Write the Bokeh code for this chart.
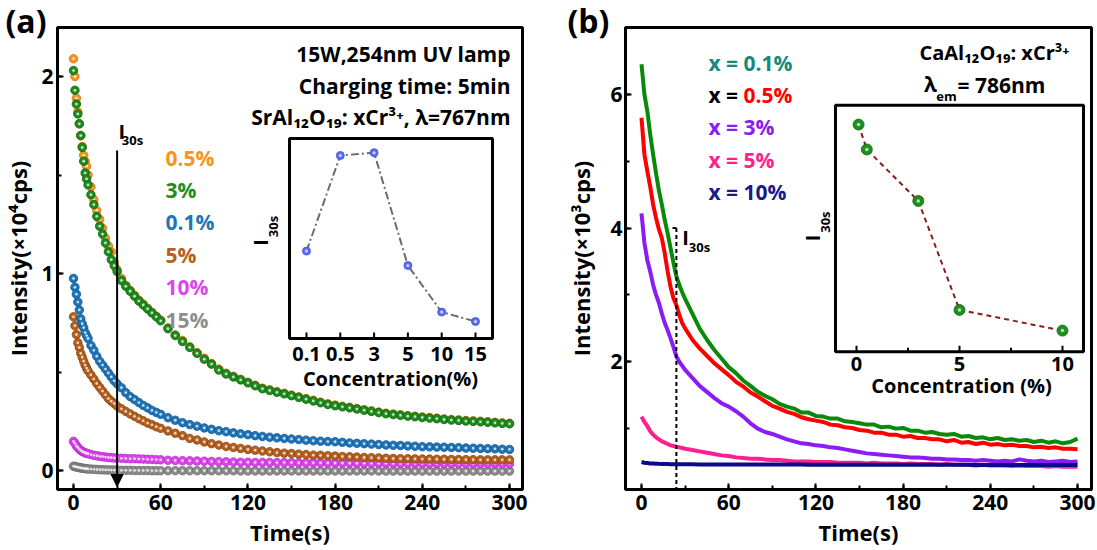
import numpy as np
from bokeh.plotting import figure
from bokeh.layouts import row
from bokeh.models import Range1d, SingleIntervalTicker, Label, Arrow, NormalHead, Title
from bokeh.embed import file_html
from bokeh.resources import INLINE
from bokeh.core.properties import value

# ---------------- data: panel (a) SrAl12O19: xCr3+ (intensity x1e4 cps) ----------------
TIME_A = list(range(0, 11)) + list(range(12, 31, 2)) + list(range(33, 61, 3)) + list(range(65, 301, 5))
A_05 = [2.09, 2.00, 1.89, 1.82, 1.76, 1.70, 1.645, 1.60, 1.57, 1.545, 1.50,
        1.44, 1.375, 1.32, 1.275, 1.23, 1.18, 1.14, 1.11, 1.06, 1.02,
        0.975, 0.94, 0.915, 0.89, 0.865, 0.845, 0.823, 0.803, 0.783, 0.763,
        0.724, 0.688, 0.66, 0.628, 0.598, 0.57, 0.543, 0.515, 0.494, 0.478, 0.463, 0.448,
        0.433, 0.418, 0.41, 0.40, 0.392, 0.383, 0.374, 0.365, 0.357, 0.347, 0.339, 0.332,
        0.326, 0.321, 0.315, 0.309, 0.303, 0.297, 0.291, 0.287, 0.283, 0.279, 0.276, 0.272,
        0.269, 0.266, 0.262, 0.259, 0.257, 0.254, 0.252, 0.25, 0.248, 0.245, 0.242, 0.24]
A_3 = [2.03, 1.93, 1.86, 1.81, 1.76, 1.70, 1.64, 1.57, 1.51, 1.48, 1.45,
       1.40, 1.35, 1.29, 1.24, 1.20, 1.155, 1.11, 1.07, 1.04, 1.01,
       0.965, 0.935, 0.91, 0.885, 0.86, 0.84, 0.82, 0.80, 0.78, 0.76,
       0.72, 0.685, 0.655, 0.625, 0.595, 0.565, 0.54, 0.51, 0.49, 0.475, 0.46, 0.445,
       0.43, 0.415, 0.406, 0.397, 0.389, 0.38, 0.371, 0.362, 0.353, 0.344, 0.335, 0.329,
       0.323, 0.318, 0.312, 0.306, 0.30, 0.294, 0.288, 0.284, 0.28, 0.276, 0.273, 0.269,
       0.266, 0.263, 0.259, 0.256, 0.254, 0.251, 0.249, 0.247, 0.245, 0.242, 0.239, 0.237]
A_01 = [0.975, 0.93, 0.895, 0.855, 0.815, 0.77, 0.745, 0.725, 0.70, 0.685, 0.67,
        0.635, 0.61, 0.58, 0.555, 0.535, 0.515, 0.495, 0.475, 0.455, 0.44,
        0.42, 0.395, 0.375, 0.36, 0.345, 0.33, 0.318, 0.305, 0.295, 0.285,
        0.268, 0.255, 0.243, 0.233, 0.225, 0.216, 0.209, 0.202, 0.197, 0.191, 0.186, 0.182,
        0.177, 0.173, 0.169, 0.166, 0.163, 0.16, 0.157, 0.154, 0.151, 0.149, 0.147, 0.146,
        0.143, 0.14, 0.138, 0.136, 0.134, 0.132, 0.13, 0.128, 0.127, 0.125, 0.123, 0.121,
        0.12, 0.119, 0.118, 0.117, 0.116, 0.114, 0.113, 0.112, 0.111, 0.11, 0.108, 0.107]
A_5 = [0.78, 0.735, 0.69, 0.648, 0.624, 0.595, 0.575, 0.555, 0.535, 0.52, 0.506,
       0.485, 0.464, 0.442, 0.422, 0.403, 0.384, 0.365, 0.352, 0.34, 0.327,
       0.313, 0.30, 0.287, 0.275, 0.263, 0.252, 0.241, 0.232, 0.222, 0.214,
       0.201, 0.189, 0.177, 0.163, 0.155, 0.145, 0.136, 0.129, 0.122, 0.117, 0.112, 0.107,
       0.103, 0.099, 0.095, 0.091, 0.088, 0.086, 0.083, 0.081, 0.078, 0.077, 0.075, 0.073,
       0.071, 0.07, 0.068, 0.066, 0.065, 0.064, 0.062, 0.061, 0.06, 0.06, 0.059, 0.058,
       0.058, 0.057, 0.057, 0.056, 0.056, 0.055, 0.055, 0.054, 0.054, 0.054, 0.054, 0.054]
A_10 = [0.148, 0.138, 0.125, 0.117, 0.109, 0.102, 0.097, 0.093, 0.09, 0.087, 0.085,
        0.081, 0.077, 0.075, 0.072, 0.07, 0.068, 0.066, 0.065, 0.064, 0.063,
        0.062, 0.061, 0.06, 0.06, 0.059, 0.058, 0.057, 0.056, 0.055, 0.054,
        0.052, 0.051, 0.05, 0.049, 0.048, 0.047, 0.046, 0.045, 0.044, 0.043, 0.042, 0.042,
        0.041, 0.041, 0.041, 0.04, 0.04, 0.04, 0.039, 0.039, 0.039, 0.039, 0.038, 0.038,
        0.038, 0.038, 0.037, 0.037, 0.037, 0.037, 0.037, 0.036, 0.036, 0.036, 0.036, 0.036,
        0.035, 0.035, 0.035, 0.035, 0.035, 0.035, 0.034, 0.034, 0.034, 0.034, 0.034, 0.034]
A_15 = [0.022, 0.02, 0.018, 0.016, 0.015, 0.013, 0.012, 0.011, 0.01, 0.009, 0.008,
        0.007, 0.006, 0.005, 0.004, 0.004, 0.003, 0.003, 0.002, 0.002, 0.002,
        0.001, 0.001, 0.001, 0.0, 0.0, 0.0, 0.0, -0.001, -0.001, -0.001,
        -0.001, -0.001, -0.001, -0.001, -0.001, -0.001, -0.001, -0.001, -0.001, -0.001, -0.002, -0.002,
        -0.002, -0.002, -0.002, -0.002, -0.002, -0.002, -0.002, -0.002, -0.002, -0.002, -0.002, -0.002,
        -0.002, -0.002, -0.002, -0.002, -0.002, -0.002, -0.003, -0.003, -0.003, -0.003, -0.003, -0.003,
        -0.003, -0.003, -0.003, -0.003, -0.003, -0.003, -0.003, -0.003, -0.003, -0.003, -0.003, -0.003]
SERIES_A_NAMES = ["0.5%", "3%", "0.1%", "5%", "10%", "15%"]
CONC_A_LABELS = ["0.1", "0.5", "3", "5", "10", "15"]
I30_A = [0.437, 0.915, 0.929, 0.365, 0.132, 0.085]
ARROW_TIME_A = 30

# ---------------- data: panel (b) CaAl12O19: xCr3+ (intensity x1e3 cps) ----------------
TIME_B = list(range(0, 31, 2)) + list(range(35, 301, 5))
B_01 = [6.45, 6.00, 5.75, 5.40, 5.10, 4.82, 4.56, 4.35, 4.12, 3.92, 3.70, 3.48, 3.28, 3.15, 3.04, 2.94,
        2.72, 2.50, 2.33, 2.18, 2.05, 1.92, 1.83, 1.72, 1.64, 1.55, 1.49, 1.44, 1.37, 1.33, 1.30,
        1.24, 1.24, 1.19, 1.18, 1.15, 1.15, 1.11, 1.10, 1.08, 1.06, 1.06, 1.02, 1.03, 1.00, 1.01,
        0.97, 0.97, 0.94, 0.95, 0.92, 0.91, 0.92, 0.88, 0.89, 0.86, 0.87, 0.84, 0.86, 0.83, 0.84,
        0.82, 0.83, 0.80, 0.82, 0.79, 0.81, 0.78, 0.80, 0.85]
B_05 = [5.65, 5.10, 4.85, 4.62, 4.35, 4.15, 3.98, 3.85, 3.62, 3.35, 3.12, 2.95, 2.85, 2.70, 2.58, 2.50,
        2.33, 2.20, 2.09, 1.98, 1.89, 1.80, 1.70, 1.63, 1.54, 1.48, 1.41, 1.34, 1.30, 1.25, 1.22,
        1.17, 1.14, 1.12, 1.10, 1.06, 1.05, 1.02, 1.01, 0.98, 0.97, 0.94, 0.94, 0.91, 0.91, 0.88,
        0.89, 0.86, 0.86, 0.84, 0.84, 0.81, 0.83, 0.79, 0.80, 0.77, 0.79, 0.76, 0.77, 0.75, 0.76,
        0.74, 0.74, 0.72, 0.73, 0.71, 0.72, 0.70, 0.70, 0.69]
B_3 = [4.22, 3.78, 3.52, 3.35, 3.15, 3.00, 2.88, 2.72, 2.58, 2.47, 2.35, 2.22, 2.08, 2.00, 1.94, 1.88,
       1.76, 1.64, 1.55, 1.46, 1.38, 1.33, 1.26, 1.18, 1.08, 1.00, 0.95, 0.92, 0.88, 0.84, 0.81,
       0.78, 0.77, 0.75, 0.74, 0.72, 0.71, 0.69, 0.67, 0.65, 0.63, 0.62, 0.61, 0.60, 0.59, 0.58,
       0.57, 0.57, 0.56, 0.55, 0.55, 0.54, 0.54, 0.53, 0.53, 0.52, 0.53, 0.52, 0.51, 0.52, 0.51,
       0.54, 0.52, 0.51, 0.52, 0.50, 0.51, 0.52, 0.50, 0.51]
B_5 = [1.18, 1.10, 1.04, 0.96, 0.91, 0.87, 0.84, 0.81, 0.79, 0.77, 0.75, 0.74, 0.73, 0.72, 0.71, 0.70,
       0.68, 0.66, 0.64, 0.62, 0.60, 0.59, 0.57, 0.56, 0.55, 0.55, 0.54, 0.53, 0.53, 0.52, 0.51,
       0.51, 0.51, 0.50, 0.50, 0.50, 0.49, 0.49, 0.49, 0.49, 0.48, 0.49, 0.48, 0.48, 0.48, 0.47,
       0.48, 0.47, 0.47, 0.47, 0.46, 0.47, 0.46, 0.46, 0.46, 0.45, 0.46, 0.45, 0.45, 0.45, 0.44,
       0.45, 0.44, 0.44, 0.44, 0.43, 0.44, 0.43, 0.43, 0.43]
B_10 = [0.50, 0.49, 0.485, 0.48, 0.478, 0.475, 0.473, 0.472, 0.471, 0.47, 0.469, 0.468, 0.468, 0.467, 0.467, 0.466,
        0.466, 0.465, 0.465, 0.465, 0.464, 0.464, 0.464, 0.463, 0.463, 0.463, 0.463, 0.462, 0.462, 0.462, 0.462,
        0.462, 0.461, 0.461, 0.461, 0.461, 0.461, 0.46, 0.46, 0.46, 0.46, 0.46, 0.46, 0.459, 0.459, 0.459,
        0.459, 0.459, 0.459, 0.458, 0.458, 0.458, 0.458, 0.458, 0.458, 0.457, 0.457, 0.457, 0.457, 0.457,
        0.457, 0.456, 0.456, 0.456, 0.456, 0.456, 0.455, 0.455, 0.455, 0.455]
SERIES_B_NAMES = ["0.1%", "0.5%", "3%", "5%", "10%"]
CONC_B = [0.1, 0.5, 3, 5, 10]
I30_B = [0.922, 0.821, 0.612, 0.170, 0.086]
CONC_B_TICKS = [0, 5, 10]
CONC_B_MINOR = [2.5, 7.5]
LINE_TIME_B = 24

for s in (A_05, A_3, A_01, A_5, A_10, A_15):
    assert len(s) == len(TIME_A), len(s)
for s in (B_01, B_05, B_3, B_5, B_10):
    assert len(s) == len(TIME_B), len(s)

# ---------------- styling ----------------
FONT = "Open Sans"
COL_A = {"0.5%": ("#f7941d", "#d47608"), "3%": ("#1f8c1f", "#0e660e"), "0.1%": ("#1f75b8", "#12588f"),
         "5%": ("#b5601e", "#8a4410"), "10%": ("#dd45ee", "#b52cc6"), "15%": ("#8e8e8e", "#6a6a6a")}
COL_B = {"0.1%": "#0a8a0a", "0.5%": "#ff0000", "3%": "#8b1cf5", "5%": "#ff1f8f", "10%": "#0a0a8a"}
LEG_B = {"0.1%": "#138a7c", "0.5%": "#ff0000", "3%": "#8b1cf5", "5%": "#ff1f8f", "10%": "#1a1a8c"}

PX_PER_S = 436 / 300.0
ax = lambda px: (px - 73) / PX_PER_S
ay = lambda py: (470 - py) / 197.0
bx = lambda px: (px - 641) / PX_PER_S
by = lambda py: (496 - py) / 67.0
iax = lambda px: (px - 306) / 33.8
iay = lambda py: (338 - py) / 200.0
ibx = lambda px: (px - 856) / 20.6
iby = lambda py: (352 - py) / 247.0


def make_fig(width, bl, br, bb, xr, yr, xint, yint, ylabel, lab_standoff, tick_standoff, tag, tag_offset):
    p = figure(width=width, height=550, x_range=Range1d(*xr), y_range=Range1d(*yr), title=None,
               output_backend="svg", toolbar_location=None,
               min_border_left=bl, min_border_right=br, min_border_top=27, min_border_bottom=bb)
    # panel tag "(a)"/"(b)" as a title shifted left of the frame; a tiny blank title above it
    # pushes it down so it straddles the frame's top edge as in the original
    p.add_layout(Title(text=tag, align="left", offset=tag_offset, standoff=-28, text_font=FONT,
                       text_font_style="bold", text_font_size="32px", text_color="black"), "above")
    p.add_layout(Title(text=" ", text_font=FONT, text_font_size="6px", standoff=0), "above")
    p.xgrid.visible = False
    p.ygrid.visible = False
    p.outline_line_color = "black"
    p.outline_line_width = 3
    p.outline_line_alpha = 1
    p.xaxis.ticker = SingleIntervalTicker(interval=xint, num_minor_ticks=2)
    p.yaxis.ticker = SingleIntervalTicker(interval=yint, num_minor_ticks=2)
    p.xaxis.axis_label = "Time(s)"
    p.yaxis.axis_label = ylabel
    for a in (p.xaxis[0], p.yaxis[0]):
        a.axis_line_width = 3
        a.axis_line_color = "black"
        a.major_tick_in = 6
        a.major_tick_out = 0
        a.minor_tick_in = 4
        a.minor_tick_out = 0
        a.major_tick_line_width = 2
        a.minor_tick_line_width = 2
        a.major_tick_line_color = "black"
        a.minor_tick_line_color = "black"
        a.major_label_text_font = FONT
        a.major_label_text_font_style = "bold"
        a.major_label_text_font_size = "21px"
        a.major_label_text_color = "black"
        a.axis_label_text_font = FONT
        a.axis_label_text_font_style = "bold"
        a.axis_label_text_font_size = "22px"
        a.axis_label_text_color = "black"
    p.xaxis.major_label_standoff = 5
    p.xaxis.axis_label_standoff = 4
    p.yaxis.major_label_standoff = tick_standoff
    p.yaxis.axis_label_standoff = lab_standoff
    return p


def lab(p, x, y, text, size, color="black", align="left", angle=0.0, style="bold"):
    p.add_layout(Label(x=x, y=y, text=text, text_font=FONT, text_font_style=style,
                       text_font_size=f"{size}px", text_color=color, text_align=align,
                       text_baseline="middle", angle=angle))


# ================= panel (a) =================
pa = make_fig(540, 57, 18, 61, (ax(57), ax(522)), (ay(489), ay(27)), 60, 1,
              "Intensity(\u00d710\u2074cps)", 5, 4, "(a)", -52)

order_a = [("15%", A_15), ("10%", A_10), ("5%", A_5), ("0.1%", A_01), ("0.5%", A_05), ("3%", A_3)]
for name, vals in order_a:
    fc, lc = COL_A[name]
    pa.scatter(TIME_A, vals, size=8.5, marker="circle", fill_color=fc, line_color=lc, line_width=0.8)
    pa.scatter(TIME_A, vals, size=2.8, marker="circle", fill_color="white", fill_alpha=0.75, line_color=None)

# arrow marking I30s
pa.add_layout(Arrow(end=NormalHead(size=12, fill_color="black", line_color="black", line_width=1),
                    x_start=ARROW_TIME_A, y_start=ay(150), x_end=ARROW_TIME_A, y_end=ay(486),
                    line_color="black", line_width=2))
lab(pa, ax(118), ay(131), "I", 20)
lab(pa, ax(132), ay(139), "30s", 13, align="center")

# legend texts
for i, name in enumerate(SERIES_A_NAMES):
    lab(pa, ax(165), ay(157 + 32.4 * i), name, 21, color=COL_A[name][0])

# header texts
lab(pa, ax(510), ay(53), "15W,254nm UV lamp", 21, align="right")
lab(pa, ax(510), ay(85), "Charging time: 5min", 21, align="right")
lab(pa, ax(510), ay(116), "SrAl\u2081\u2082O\u2081\u2089: xCr\u00b3\u207a, \u03bb=767nm", 21, align="right")

# inset (a)
pa.extra_x_ranges = {"iax": Range1d(iax(57), iax(522))}
pa.extra_y_ranges = {"iay": Range1d(iay(489), iay(27))}
pa.quad(left=[iax(289)], right=[iax(492)], bottom=[iay(338)], top=[iay(138)],
        fill_color="white", line_color="black", line_width=3, x_range_name="iax", y_range_name="iay")
idx_a = list(range(len(CONC_A_LABELS)))
pa.segment(x0=idx_a, y0=[iay(338)] * len(idx_a), x1=idx_a, y1=[iay(332)] * len(idx_a),
           line_color="black", line_width=2, x_range_name="iax", y_range_name="iay")
pa.line(idx_a, I30_A, line_color="#6b6b6b", line_width=2, line_dash="8 3 2 3",
        x_range_name="iax", y_range_name="iay")
pa.scatter(idx_a, I30_A, size=8, marker="circle", fill_color="#5b6ef0", line_color="#3f51d6",
           line_width=0.8, x_range_name="iax", y_range_name="iay")
pa.scatter(idx_a, I30_A, size=3, marker="circle", fill_color="white", fill_alpha=0.7, line_color=None,
           x_range_name="iax", y_range_name="iay")
pa.text(x=idx_a, y=[iay(353)] * len(idx_a), text=CONC_A_LABELS, text_font=value(FONT),
        text_font_style="bold", text_font_size="20px", text_align="center", text_baseline="middle",
        text_color="black", x_range_name="iax", y_range_name="iay")
lab(pa, ax(390), ay(378), "Concentration(%)", 20, align="center")
lab(pa, ax(260), ay(242), "I", 20, align="center", angle=np.pi / 2)
lab(pa, ax(272), ay(226), "30s", 13, align="center", angle=np.pi / 2)

# ================= panel (b) =================
pb = make_fig(557, 85, 6, 60, (bx(625), bx(1091)), (by(490), by(27)), 60, 2,
              "Intensity(\u00d710\u00b3cps)", 11, 3, "(b)", -58)

order_b = [("0.1%", B_01), ("0.5%", B_05), ("3%", B_3), ("5%", B_5), ("10%", B_10)]
for name, vals in order_b:
    pb.line(TIME_B, vals, line_color=COL_B[name], line_width=4, line_join="round")

# dashed I30s marker
pb.add_layout(Arrow(end=None, x_start=LINE_TIME_B, y_start=by(228), x_end=LINE_TIME_B, y_end=by(506),
                    line_color="black", line_width=2, line_dash="4 3"))
pb.add_layout(Arrow(end=None, x_start=bx(672), y_start=by(228), x_end=LINE_TIME_B, y_end=by(228),
                    line_color="black", line_width=2))
lab(pb, bx(685), by(237), "I", 20, align="center")
lab(pb, bx(699), by(247), "30s", 13, align="center")

# legend texts
for i, name in enumerate(SERIES_B_NAMES):
    yy = by(62.7 + 32.25 * i)
    if name == "0.5%":
        lab(pb, bx(708), yy, "x = ", 21, color="black")
        lab(pb, bx(743), yy, name, 21, color=LEG_B[name])
    else:
        lab(pb, bx(708), yy, "x = " + name, 21, color=LEG_B[name])

lab(pb, bx(1069), by(52), "CaAl\u2081\u2082O\u2081\u2089: xCr\u00b3\u207a", 20, align="right")
lab(pb, bx(930), by(84), "\u03bb", 21, align="center")
lab(pb, bx(946), by(96), "em", 13, align="center")
lab(pb, bx(957), by(85), "= 786nm", 21)

# inset (b)
pb.extra_x_ranges = {"ibx": Range1d(ibx(625), ibx(1091))}
pb.extra_y_ranges = {"iby": Range1d(iby(490), iby(27))}
pb.quad(left=[ibx(835)], right=[ibx(1083)], bottom=[iby(352)], top=[iby(105)],
        fill_color="white", line_color="black", line_width=3, x_range_name="ibx", y_range_name="iby")
pb.segment(x0=CONC_B_TICKS, y0=[iby(352)] * 3, x1=CONC_B_TICKS, y1=[iby(346)] * 3,
           line_color="black", line_width=2, x_range_name="ibx", y_range_name="iby")
pb.segment(x0=CONC_B_MINOR, y0=[iby(352)] * 2, x1=CONC_B_MINOR, y1=[iby(348)] * 2,
           line_color="black", line_width=2, x_range_name="ibx", y_range_name="iby")
pb.line(CONC_B, I30_B, line_color="#8b1a1a", line_width=2, line_dash="5 4",
        x_range_name="ibx", y_range_name="iby")
pb.scatter(CONC_B, I30_B, size=11, marker="circle", fill_color="#1f8f1f", line_color="#0e660e",
           line_width=0.8, x_range_name="ibx", y_range_name="iby")
pb.scatter(CONC_B, I30_B, size=3.5, marker="circle", fill_color="white", fill_alpha=0.7, line_color=None,
           x_range_name="ibx", y_range_name="iby")
pb.text(x=CONC_B_TICKS, y=[iby(364)] * 3, text=[str(t) for t in CONC_B_TICKS], text_font=value(FONT),
        text_font_style="bold", text_font_size="20px", text_align="center", text_baseline="middle",
        text_color="black", x_range_name="ibx", y_range_name="iby")
lab(pb, bx(961), by(386), "Concentration (%)", 20, align="center")
lab(pb, bx(812), by(238), "I", 20, align="center", angle=np.pi / 2)
lab(pb, bx(824), by(222), "30s", 13, align="center", angle=np.pi / 2)

layout = row(pa, pb, spacing=0)
open("out.html", "w").write(file_html(layout, INLINE))
